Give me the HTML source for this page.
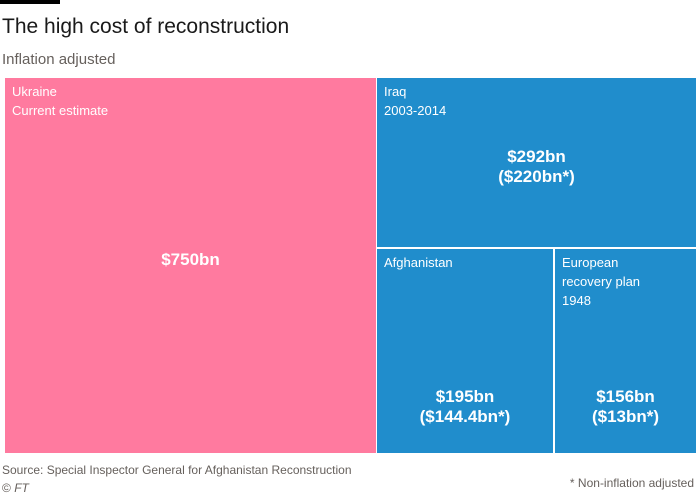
<!DOCTYPE html>
<html><head><meta charset="utf-8"><style>
body{margin:0;width:700px;height:496px;background:#fff;font-family:"Liberation Sans",sans-serif;position:relative;overflow:hidden}
.a{position:absolute}
.r{position:absolute;color:#fff;box-sizing:border-box}
.lab{position:absolute;left:7px;top:4px;font-size:13px;line-height:19px}
.big{position:absolute;left:0;right:0;text-align:center;font-weight:bold;font-size:17px;line-height:20px}
</style></head><body>
<div class="a" style="left:0;top:0;width:60px;height:4px;background:#000"></div>
<div class="a" style="left:2px;top:15px;font-size:21px;color:#1a1a1a">The high cost of reconstruction</div>
<div class="a" style="left:2px;top:51px;font-size:15px;color:#66605c">Inflation adjusted</div>
<div class="r" style="left:5px;top:78px;width:371px;height:375px;background:#ff7a9f">
 <div class="lab">Ukraine<br>Current estimate</div>
 <div class="big" style="top:172px">$750bn</div></div>
<div class="r" style="left:377px;top:78px;width:319px;height:169px;background:#208dcc">
 <div class="lab">Iraq<br>2003-2014</div>
 <div class="big" style="top:69px">$292bn<br>($220bn*)</div></div>
<div class="r" style="left:377px;top:249px;width:176px;height:204px;background:#208dcc">
 <div class="lab">Afghanistan</div>
 <div class="big" style="top:138px">$195bn<br>($144.4bn*)</div></div>
<div class="r" style="left:555px;top:249px;width:141px;height:204px;background:#208dcc">
 <div class="lab">European<br>recovery plan<br>1948</div>
 <div class="big" style="top:138px">$156bn<br>($13bn*)</div></div>
<div class="a" style="left:2px;top:463px;font-size:12px;color:#66605c">Source: Special Inspector General for Afghanistan Reconstruction</div>
<div class="a" style="left:2px;top:481px;font-size:12px;color:#66605c">© <i>FT</i></div>
<div class="a" style="right:6px;top:476px;font-size:12px;color:#66605c">* Non-inflation adjusted</div>
</body></html>
